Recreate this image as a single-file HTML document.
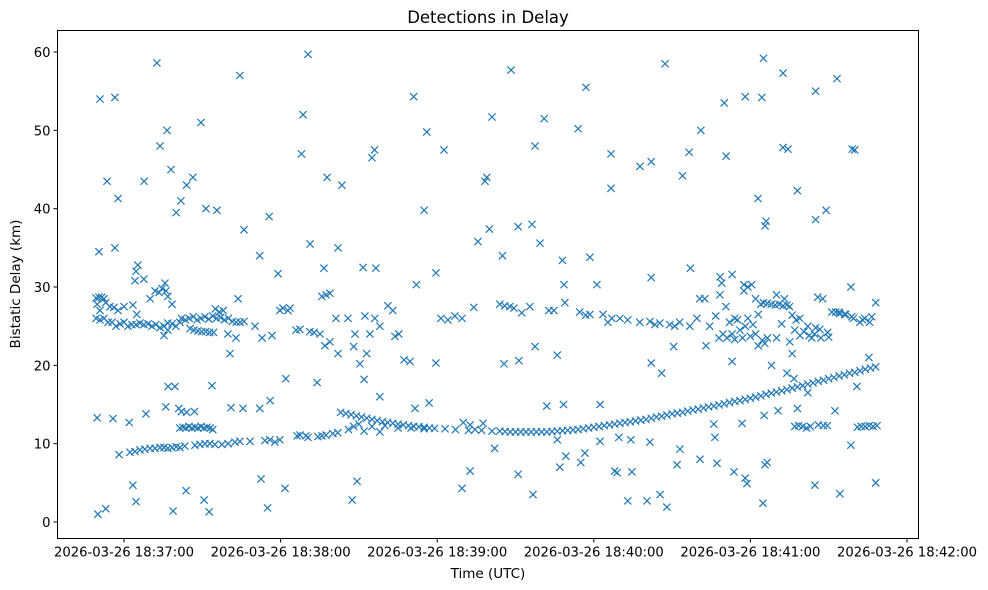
<!DOCTYPE html>
<html>
<head>
<meta charset="utf-8">
<style>
  html,body{margin:0;padding:0;background:#fff;}
  svg{display:block;font-family:"DejaVu Sans","Liberation Sans",sans-serif;}
</style>
</head>
<body>
<svg id="chart" width="988" height="590" viewBox="0 0 988 590" xmlns="http://www.w3.org/2000/svg">
  <rect x="0" y="0" width="988" height="590" fill="#fff"/>
  <text x="488" y="23" font-size="16.5" text-anchor="middle" fill="#000">Detections in Delay</text>
  <text x="488" y="578" font-size="13.5" text-anchor="middle" fill="#000">Time (UTC)</text>
  <text x="20" y="284" font-size="13.5" text-anchor="middle" fill="#000" transform="rotate(-90 20 284)">Bistatic Delay (km)</text>
  <g id="xticks"></g>
  <g id="yticks"></g>
  <g id="marks"></g>
  <rect x="57.5" y="30.5" width="861" height="508" fill="none" stroke="#000" stroke-width="1"/>
</svg>
<script>
// time values are seconds after 18:36:00 UTC, delays in km
const xTickSeconds = [60, 120, 180, 240, 300, 360];
const xTickLabels = ["2026-03-26 18:37:00","2026-03-26 18:38:00","2026-03-26 18:39:00","2026-03-26 18:40:00","2026-03-26 18:41:00","2026-03-26 18:42:00"];
const yTickValues = [0, 10, 20, 30, 40, 50, 60];

const earlyBand = [[49.3,26],[49.3,28.6],[50.4,28.7],[51.5,28.7],[52.3,28.5],[49.7,27.8],[50.8,27],[53,28],[50.8,25.8],[52.3,26],[53.9,25.5],[55.4,25.5],[56.9,25],[58.5,25.3],[60,25.5],[61.5,25],[63,25.2],[64.6,25.2],[66.1,25.4],[67.6,25.2],[69.2,25.3],[70.7,25],[72.2,25.2],[73.8,24.8],[75.3,25],[76.8,25.4],[78.4,25.3],[79.9,25],[81.4,25.5],[54.6,27.5],[56.1,27.4],[57.7,27],[60,27.5],[63.4,27.7],[64.9,26.5],[70,28.5],[71.9,29.5],[73.4,29.3],[74.6,29.8],[75.7,30.5],[76.1,29.5],[76.8,28.8],[78.4,27.8],[64.2,30.8],[64.6,32],[65.3,32.8],[75.3,23.8],[67.6,31],[76.8,24.5],
[82,26],[83.5,25.8],[85,26],[86.5,26.2],[88,25.8],[89.5,26],[91,26.2],[92.5,25.9],[94,26.3],[95.5,26],[97,26.1],[98.5,25.8],[100,26],[101.5,25.6],[103,25.5],[104.5,25.5],[106,25.6],[95,27.2],[96.5,26.8],[98,27],
[85.3,24.7],[86.8,24.5],[88.3,24.4],[89.8,24.3],[91.3,24.3],[92.8,24.2],[94.3,24.2],[99.8,24],[102.9,23.5],[103.7,28.5],[100.6,21.5]];

const lowBand = [[58.1,8.6],[62.3,8.9],[64.2,9],[66.1,9.2],[68,9.3],[70,9.4],[71.9,9.4],[73.8,9.5],[75.3,9.5],[76.8,9.4],[78.4,9.5],[80,9.6],[81.4,9.5],[83.3,9.7],[87.2,9.8],[89.1,9.9],[91,10],[92.9,10],[94.8,9.9],[97.5,9.9],[99.9,10],[102.5,10.2],[104.4,10.3],[108.3,10.3],[114,10.4],[115.9,10.5],[117.8,10.2],[119.7,10.5],
[126.3,11],[127.4,11.1],[129.7,11],[134.3,10.9],[135.8,11],[137.4,11.1],[140,11.3],[141.9,11.4],[130.5,10.8],
[81.4,12],[82.6,12.1],[83.7,12],[84.9,12.2],[86,12],[87.2,12.1],[88.3,12],[89.5,12.2],[90.6,12],[91.8,12.1],[93,12],[94,11.8],[84,14],[82,14.1],[87,14.1]];

const mainTrack = [[143,14],[145,13.85],[147,13.7],[149,13.55],[151,13.4],[153,13.25],[155,13.1],[157,12.95],[159,12.8],[161,12.7],[163,12.6],[165,12.5],[167,12.4],[169,12.3],[171,12.2],[173,12.15],[175,12.1],[177,12],[179,11.95],[183,11.9],[187,11.8],[192,11.7],[197,11.7],[201,11.6],[204,11.6],[206,11.55],[208,11.5],[210,11.5],[212,11.5],[214,11.5],[216,11.5],[218,11.5],[220,11.5],[222,11.5],[224,11.55],[226,11.6],[228,11.65],[230,11.7],[232,11.75],[234,11.8],[236,11.9],[238,12],[240,12.1],[242,12.2],[244,12.3],[246,12.4],[248,12.5],[250,12.6],[252,12.7],[254,12.8],[256,12.9],[258,13],[260,13.1],[262,13.25],[264,13.4],[266,13.5],[268,13.65],[270,13.8],[272,13.9],[274,14],[276,14.15],[278,14.3],[280,14.4],[282,14.55],[284,14.7],[286,14.8],[288,14.95],[290,15.1],[292,15.25],[294,15.4],[296,15.5],[298,15.65],[300,15.8],[302,15.95],[304,16.1],[306,16.3],[308,16.45],[310,16.6],[312,16.75],[314,16.9],[316,17.1],[318,17.25],[320,17.4],[322,17.6],[324,17.75],[326,17.95],[328,18.1],[330,18.3],[332,18.45],[334,18.65],[336,18.8],[338,19],[340,19.1],[342,19.3],[344,19.5],[346,19.65],[348,19.8],
[150,12.5],[155,12.2],[160,12.3],[165,12],[170,12],[175,11.9],[152,11.6],[158,11.5],[146,11.8],[148,12.2]];

const rightLowBand = [[317,12.2],[318.5,12.3],[320,12.2],[321.5,12],[323,12.2],[326,12.4],[328,12.3],[329.5,12.3],[341,12.1],[342.5,12.2],[344,12.2],[345.5,12.3],[347,12.2],[348.5,12.3]];

const midScatter = [[110.2,25],[112.9,23.5],[116.7,23.8],[119.7,27],[120.9,27.3],[122.8,27],[123.6,27.3],[125.9,24.5],[127.4,24.6],[131.2,24.3],[132.8,24.2],[135.1,24],[135.8,28.8],[137.4,29],[138.9,29.2],[138.9,23],[141.2,26],[145.8,26],[148.5,24],[152.3,26.3],[154.2,24],[156.1,26],[158,25],[161.1,27.6],[163,27],[163.8,23.7],[165.3,24],[181.4,26],[184.1,25.8],[186.8,26.3],[189.5,26],[194,27.4],[204,27.8],[205.9,27.6],[207.8,27.5],[209.4,27.3],[212.4,26.7],[215.5,27.5],[222.8,27],[224.7,27],[228.9,28],[234.6,26.8],[236.9,26.4],[238.5,26.5],[243.5,26.5],[245.4,25.5],[246.9,26],[250,26],[253,25.8],[257.6,25.5],[261.5,25.6],[263.4,25.2],[265.3,25.4],[269.1,25.2],[271,25],[272.9,25.5],[276.8,25],[279.5,26],[280.6,28.5],[282.5,28.5],[284.4,25],[286.7,26.3],[288.3,29],[289,30.5],[290.6,27.5],
[288,23.5],[289.5,24],[291,23.5],[292,25.5],[293,24],[294,23.3],[295,25.8],[296,24.5],[297,23.5],[298,25],[299,26],[300,23.7],[301,25.2],[302,24],[303,26.5],[294,26],[297.5,29.5],[300.5,30.3],[302,28.5],[304,27.8],[303,22.5],[304.5,23.2],[305.5,22.8],[306.5,23.5],
[305,28],[306.5,27.9],[308,27.8],[309.5,27.7],[311,27.8],[312.5,27.6],[314,27.7],[315,27.5],[310,29],[313,28.5],
[315.1,23],[318.9,26],[322,25],[324.6,24],[326.6,24.6],[329.6,24.2],[331.2,26.8],[332.7,26.8],[334.2,26.6],[336.1,26.5],[338.8,26.2],[341.9,25.5],[343.8,26],[345.7,25.5],[348,28],[323.5,23.5],[325.8,28.7],[327.7,28.5],[317,24.5],[319,23.8],[320.5,24.3],[322.5,23.8],[325,24.8],[327,23.5],[330,23.6],[317.5,25.8],[316,26.4],[334,26.8],[336.5,26.5],[339.5,26],[343,25.8],[346.5,26.2],[310,23.5],[312,25.3],[316,21.5],[314,19]];

const highOutliers = [[50.8,54],[50.4,34.5],[53.5,43.5],[56.5,54.2],[57.7,41.3],[56.5,35],[72.6,58.6],[73.8,48],[76.5,50],[78,45],[67.7,43.5],[80,39.5],[81.8,41],[84,43],[86.4,44],[89.5,51],[91.4,40],[95.6,39.8],[104.4,57],[106,37.3],[112,34],[115.6,39],[119,31.7],[128.6,52],[128,47],[130.5,59.7],[131.3,35.5],[136.6,32.4],[137.8,44],[143.5,43],[142,35],[155,46.5],[156,47.5],[151.6,32.5],[156.5,32.4],[171,54.3],[176,49.8],[175,39.8],[182.6,47.5],[179.5,31.8],[172,30.3],[198.3,43.5],[199,44],[201,51.7],[200,37.4],[208.3,57.7],[205,34],[211,37.7],[216.3,38],[217.5,48],[219.4,35.6],[221,51.5],[228,33.4],[234,50.2],[237,55.5],[238.5,33.8],[246.6,47],[246.6,42.6],[257.7,45.4],[262,46],[267.3,58.5],[274,44.2],[276.5,47.2],[281,50],[277,32.4],[290,53.5],[290.7,46.7],[298,54.3],[304.4,54.2],[305,59.2],[302.9,41.3],[305.6,37.8],[306,38.4],[312.5,57.3],[312.5,47.8],[314.4,47.6],[318,42.3],[325,55],[325,38.6],[329,39.8],[333.2,56.6],[339,47.6],[340,47.5],[262,31.2],[288.4,31.3],[293,31.6],[297.5,30.3],[299,30],[338.5,30],[228.6,30.3],[241.2,30.3],[195.6,35.8]];

const lowOutliers = [[50,1],[53,1.7],[63.4,4.7],[64.6,2.6],[78.8,1.4],[83.8,4],[90.7,2.8],[92.6,1.3],[115,1.8],[121.7,4.3],[147.4,2.8],[149.3,5.2],[189.5,4.3],[192.6,6.5],[216.7,3.5],[227,7],[235,7.6],[248,6.5],[248.9,6.3],[253,2.7],[254.6,6.4],[260.4,2.7],[265.4,3.5],[268,1.9],[271.9,7.3],[293.7,6.4],[298,5.6],[298.7,4.9],[304.8,2.4],[305.6,7.3],[306.4,7.6],[324.7,4.7],[334.3,3.6],[338.5,9.8],[348,5],[112.5,5.5],[211,6.1],[229.3,8.4],[273,9.3],[280.7,8],[287.2,7.5],
[112,14.5],[116,15.5],[122,18.3],[134,17.8],[152,18.2],[158,16],[171.5,14.5],[176.9,15.2],[205.6,20.2],[211.3,20.6],[217.5,22.4],[226,21.3],[222,14.8],[228.4,15],[242.4,15],[169.6,20.5],[167.3,20.7],[179.5,20.3],[153,21.5],[148,22.4],[150.4,20.2],[137,22.5],[142,21.5],[93.7,17.4],[76.9,17.3],[79.5,17.3],[76,14.7],[81,14.5],[68.4,13.8],[49.7,13.3],[55.8,13.2],[62,12.7],[105.6,14.5],[101,14.6],[262,20.3],[266,19],[270.6,22.4],[283,22.5],[293,20.5],[308.1,20],[316.7,18.3],[318,14.5],[322,16.5],[310.6,14.2],[305.3,13.6],[332.4,14.2],[340.8,17.3],[345.4,21],[296.8,12.6],[286,12.5],[286.4,10.8],[254.2,10.5],[249.6,10.8],[261.5,10.2],[242.4,10.3],[236.6,8.8],[226,10.5],[202,9.4],[194.5,11.8],[190,12.7],[192.6,12.4],[197.6,12.6]];

const allSeries = [earlyBand, lowBand, mainTrack, rightLowBand, midScatter, highOutliers, lowOutliers];

const X0 = 57.5, X1 = 918.5, Y0 = 538.5, Y1 = 30.5;
const tMin = 60 - (124 - X0) / 2.61, tMax = 60 + (X1 - 124) / 2.61;
const dMin = -(538.5 - 522) / 7.833, dMax = (522 - 30.5) / 7.833;
function xScale(t){ return X0 + (t - tMin) / (tMax - tMin) * (X1 - X0); }
function yScale(d){ return Y0 - (d - dMin) / (dMax - dMin) * (Y0 - Y1); }

const NS = "http://www.w3.org/2000/svg";
const xg = document.getElementById('xticks');
xTickSeconds.forEach((s, i) => {
  const x = xScale(s);
  const ln = document.createElementNS(NS, 'line');
  ln.setAttribute('x1', x); ln.setAttribute('x2', x);
  ln.setAttribute('y1', Y0); ln.setAttribute('y2', Y0 + 4);
  ln.setAttribute('stroke', '#000');
  
  
  xg.appendChild(ln);
  const tx = document.createElementNS(NS, 'text');
  tx.setAttribute('x', x); tx.setAttribute('y', Y0 + 18);
  tx.setAttribute('font-size', '13.2'); tx.setAttribute('text-anchor', 'middle');
  tx.textContent = xTickLabels[i];
  
  
  xg.appendChild(tx);
});
const yg = document.getElementById('yticks');
yTickValues.forEach(v => {
  const y = yScale(v);
  const ln = document.createElementNS(NS, 'line');
  ln.setAttribute('x1', X0 - 4); ln.setAttribute('x2', X0);
  ln.setAttribute('y1', y); ln.setAttribute('y2', y);
  ln.setAttribute('stroke', '#000');
  
  
  yg.appendChild(ln);
  const tx = document.createElementNS(NS, 'text');
  tx.setAttribute('x', X0 - 7); tx.setAttribute('y', y + 5);
  tx.setAttribute('font-size', '13.2'); tx.setAttribute('text-anchor', 'end');
  tx.textContent = String(v);
  
  
  yg.appendChild(tx);
});
const mg = document.getElementById('marks');
const r = 3.6;
allSeries.forEach(series => {
  series.forEach(p => {
    const x = xScale(p[0]), y = yScale(p[1]);
    const path = document.createElementNS(NS, 'path');
    path.setAttribute('d', `M${x-r},${y-r}L${x+r},${y+r}M${x-r},${y+r}L${x+r},${y-r}`);
    path.setAttribute('stroke', '#1f77b4');
    path.setAttribute('stroke-width', '1.2');
    path.setAttribute('fill', 'none');
    
    
    mg.appendChild(path);
  });
});
</script>
</body>
</html>
